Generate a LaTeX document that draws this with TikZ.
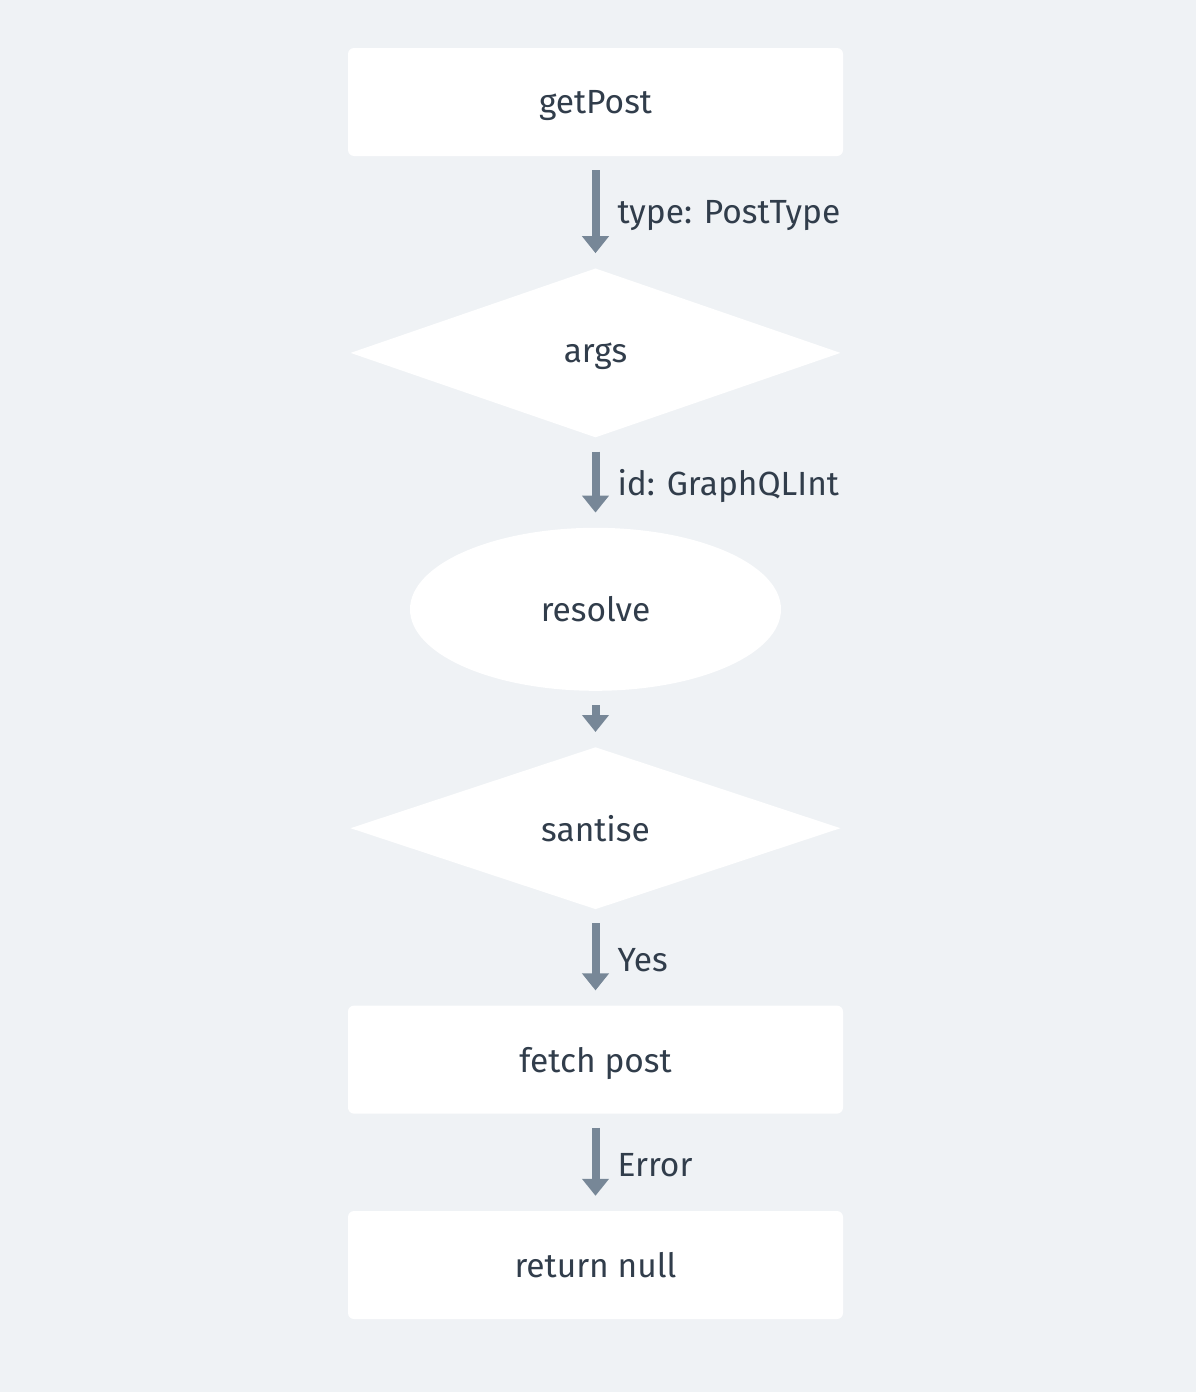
\documentclass[tikz,border=0pt]{standalone}
\usepackage{fontspec}
\setmainfont{Fira Sans}
\usepackage{xcolor}
\usepackage{tikz}
\usetikzlibrary{shapes.geometric, arrows.meta, positioning}

\definecolor{bgcol}{HTML}{EFF2F5}
\definecolor{txtcol}{HTML}{313D4B}
\definecolor{arrcol}{HTML}{778797}

\begin{document}
\begin{tikzpicture}[
    font=\fontsize{33.5}{40}\selectfont,
    text=txtcol,
    block/.style={rectangle, fill=white, rounded corners=6pt, minimum height=108pt, minimum width=495pt, align=center, text depth=0pt},
    choice/.style={diamond, fill=white, minimum width=490pt, inner sep=0pt, text depth=0pt},
    oval/.style={ellipse, fill=white, minimum width=371pt, minimum height=163pt, text depth=0pt},
    arrow/.style={-{Triangle[length=17pt, width=26pt]}, line width=8pt, draw=arrcol, shorten <=14pt, shorten >=15pt},
    label_style/.style={anchor=west, inner sep=0pt, xshift=18pt, yshift=-3pt}
]

% Canvas
\fill[bgcol] (0,0) rectangle (1196pt,-1392pt);
\useasboundingbox (0,0) rectangle (1196pt,-1392pt);

% Nodes
\node[block] (getpost) at (595.5pt,-102pt) {getPost};
\node[choice, minimum height=169pt, below=112pt of getpost] (args) {args};
\node[oval, below=90pt of args] (resolve) {resolve};
\node[choice, minimum height=162pt, below=56pt of resolve] (santise) {santise};
\node[block, below=96pt of santise] (fetch) {fetch post};
\node[block, below=97pt of fetch] (retnull) {return null};

% Arrows
\draw[arrow] (getpost) -- node[label_style] {type: PostType} (args);
\draw[arrow] (args) -- node[label_style] {id: GraphQLInt} (resolve);
\draw[arrow] (resolve) -- (santise);
\draw[arrow] (santise) -- node[label_style] {Yes} (fetch);
\draw[arrow] (fetch) -- node[label_style] {Error} (retnull);

\end{tikzpicture}
\end{document}
